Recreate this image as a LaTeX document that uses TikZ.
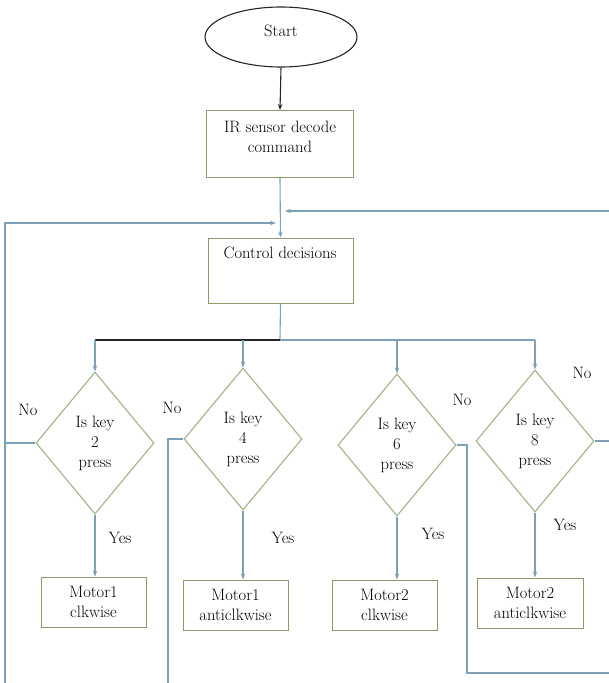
\documentclass[tikz,border=0pt]{standalone}
\usetikzlibrary{arrows.meta,shapes.geometric}
\definecolor{flowblue}{RGB}{125,160,185}
\definecolor{boxgreen}{RGB}{140,152,105}
\definecolor{diagreen}{RGB}{160,178,135}
\begin{document}
\begin{tikzpicture}[x=1pt,y=-1pt,
  every node/.style={font=\fontsize{16.5}{20}\selectfont, text=black},
  procbox/.style={draw=boxgreen, line width=1pt, rectangle, inner sep=0pt, align=center},
  decision/.style={draw=diagreen, line width=1.1pt, diamond, inner sep=0pt,
    minimum width=118pt, minimum height=142pt, align=center},
  txt/.style={inner sep=0pt, align=center},
  blueline/.style={draw=flowblue, line width=1.1pt},
  blackline/.style={draw=black!85, line width=1.1pt},
  tip/.style={-{Stealth[length=6pt,width=4.5pt]}}
]
\useasboundingbox (0,0) rectangle (609,683);

% top part
\node[draw=black!85, line width=1.1pt, ellipse, minimum width=152pt, minimum height=60pt] (start) at (281,37) {};
\node[txt] (starttxt) at (281,31) {Start};
\node[procbox, minimum width=147pt, minimum height=67pt] (ir) at (280,144) {};
\node[txt] (irtxt) at (280,137) {IR sensor decode\\command};
\node[procbox, minimum width=145pt, minimum height=65pt] (ctrl) at (280.5,270.5) {};
\node[txt] (ctrltxt) at (280,253) {Control decisions};

\draw[blackline,tip] (start.south) -- (ir.north);
\draw[blueline,tip] (ir.south) -- (ctrl.north);

% decisions
\node[decision] (d1) at (95,443) {Is key\\2\\press};
\node[decision] (d2) at (243,439) {Is key\\4\\press};
\node[decision] (d3) at (397,445) {Is key\\6\\press};
\node[decision] (d4) at (535,441) {Is key\\8\\press};

% motor boxes
\node[procbox, minimum width=105pt, minimum height=50pt] (m1) at (93.5,602) {Motor1\\clkwise};
\node[procbox, minimum width=105pt, minimum height=50pt] (m2) at (235.5,605) {Motor1\\anticlkwise};
\node[procbox, minimum width=105pt, minimum height=50pt] (m3) at (384.5,605) {Motor2\\clkwise};
\node[procbox, minimum width=106pt, minimum height=50pt] (m4) at (530,603) {Motor2\\anticlkwise};

% branch
\coordinate (br) at (280,340);
\coordinate (b1) at (95,340);
\coordinate (b4) at (535,340);
\draw[blueline] (ctrl.south) -- (br);
\draw[blackline] (br) -- (b1);
\draw[blueline] (br) -- (b4);
\draw[blueline,tip] (b1) -- (d1.north);
\draw[blueline,tip] (d2.north |- br) -- (d2.north);
\draw[blueline,tip] (d3.north |- br) -- (d3.north);
\draw[blueline,tip] (b4) -- (d4.north);

% yes arrows
\draw[blueline,tip] (d1.south) -- (d1.south |- m1.north);
\draw[blueline,tip] (d2.south) -- (d2.south |- m2.north);
\draw[blueline,tip] (d3.south) -- (d3.south |- m3.north);
\draw[blueline,tip] (d4.south) -- (d4.south |- m4.north);

\node[txt] (y1) at (120,538) {Yes};
\node[txt] (y2) at (283,538) {Yes};
\node[txt] (y3) at (433,534) {Yes};
\node[txt] (y4) at (565,525) {Yes};

\node[txt] (n1) at (28,410) {No};
\node[txt] (n2) at (172,408) {No};
\node[txt] (n3) at (462,400) {No};
\node[txt] (n4) at (582,373) {No};

% loops
\coordinate (lb) at (5,683);
\coordinate (lt) at (5,223);
\coordinate (lj) at (276,223);
\draw[blueline,tip] (lb) -- (lt) -- (lj);
\coordinate (rs) at (609,211);
\coordinate (rj) at (285,211);
\draw[blueline,tip] (rs) -- (rj);

% no exits
\draw[blueline] (d1.west) -- (d1.west -| lb);
\coordinate (e2) at (168,683);
\draw[blueline] (d2.west) -| (e2);
\coordinate (e3) at (609,673);
\draw[blueline] (d3.east) -| (467,673) -- (e3);
\coordinate (e4) at (609,441);
\draw[blueline] (d4.east) -- (e4);
\end{tikzpicture}
\end{document}
